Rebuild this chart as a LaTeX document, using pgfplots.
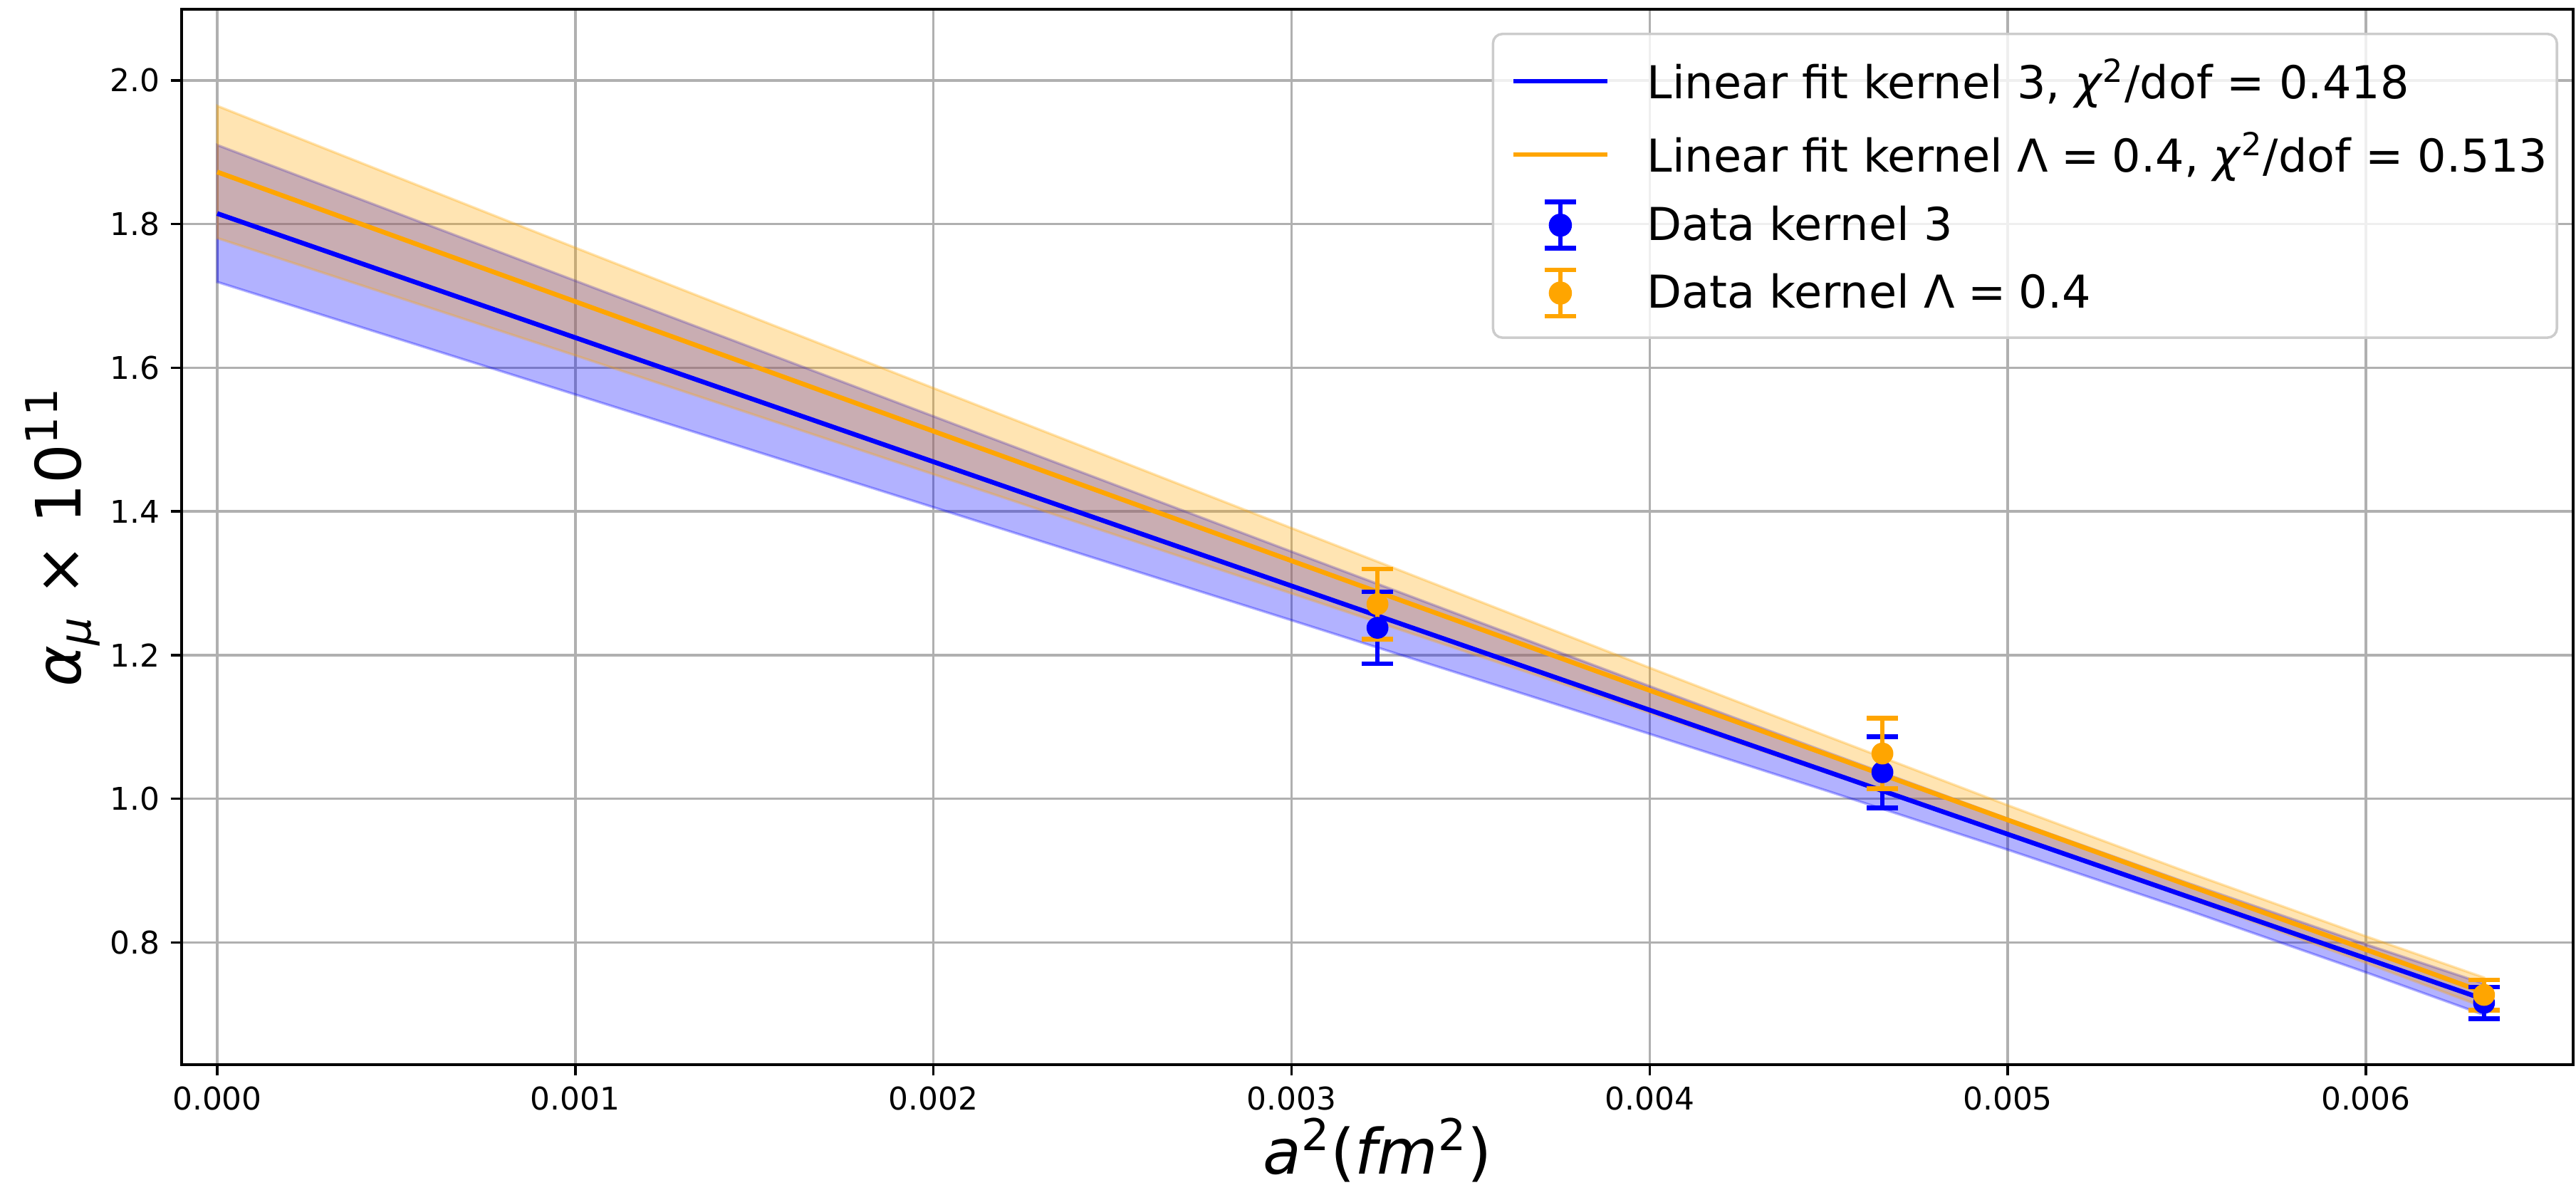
\documentclass[border=0pt]{standalone}
\usepackage{fontspec}
\setmainfont{DejaVu Sans}
\usepackage{pgfplots}
\pgfplotsset{compat=1.18}
\definecolor{mplorange}{RGB}{255,165,0}
\definecolor{gridgray}{RGB}{176,176,176}
\newcommand{\thick}{\hspace{4.2pt}}
\begin{document}
\begin{tikzpicture}
\begin{axis}[
  at={(0pt,0pt)}, anchor=south west,
  scale only axis,
  width=765.0pt, height=337.6pt,
  xmin=-0.0000994, xmax=0.006579,
  ymin=0.630, ymax=2.099,
  xtick={0,0.001,0.002,0.003,0.004,0.005,0.006},
  ytick={0.8,1.0,1.2,1.4,1.6,1.8,2.0},
  scaled x ticks=false,
  xticklabel style={/pgf/number format/.cd, fixed, fixed zerofill, precision=3},
  yticklabel style={/pgf/number format/.cd, fixed, fixed zerofill, precision=1},
  /pgf/number format/assume math mode=true,
  ticklabel style={font=\fontsize{10}{12}\selectfont},
  tick pos=left,
  tick align=outside,
  major tick length=3.5pt,
  tick style={black, line width=0.8pt},
  axis line style={line width=0.8pt},
  grid=major,
  major grid style={gridgray, line width=0.8pt},
  xlabel={\textit{a}\textsuperscript{2}(\textit{fm}\textsuperscript{2})},
  ylabel={\textit{α}\textsubscript{\textit{μ}} × 10\textsuperscript{11}},
  label style={font=\fontsize{20}{24}\selectfont},
  xlabel style={at={(axis description cs:0.5,0)}, anchor=base, yshift=-35pt},
  ylabel style={at={(axis description cs:0,0.5)}, anchor=center, yshift=38pt},
  legend cell align=left,
  legend image code/.code={\draw[#1, draw opacity=1] (2.8pt,0pt) -- (32.8pt,0pt); \path (0pt,0pt) (44.8pt,0pt);},
  legend style={at={(1,1)}, anchor=north east, xshift=-4.8pt, yshift=-7.5pt,
    font=\fontsize{14.5}{17}\selectfont, draw=black!20, line width=0.8pt,
    rounded corners=3pt, fill=white, fill opacity=0.8, text opacity=1,
    inner xsep=3pt, inner ysep=6pt, row sep=5.2pt,
    nodes={inner xsep=0pt}},
]
% fit error bands
\addplot[forget plot, fill=blue, fill opacity=0.3, draw=blue, draw opacity=0.3, line width=0.8pt] coordinates {
 (0,1.9100) (0.001,1.7211) (0.002,1.5324) (0.003,1.3441) (0.004,1.1567) (0.0045,1.0639) (0.005,0.9723) (0.0055,0.8832) (0.006,0.7974) (0.00633,0.7426)
 (0.00633,0.6992) (0.006,0.7584) (0.0055,0.8454) (0.005,0.9291) (0.0045,1.0103) (0.004,1.0903) (0.003,1.2485) (0.002,1.4058) (0.001,1.5627) (0,1.7194)
} -- cycle;
\addplot[forget plot, fill=mplorange, fill opacity=0.3, draw=mplorange, draw opacity=0.3, line width=0.8pt] coordinates {
 (0,1.9645) (0.001,1.7671) (0.002,1.5717) (0.003,1.3768) (0.004,1.1824) (0.0045,1.0862) (0.005,0.9910) (0.0055,0.8983) (0.006,0.8086) (0.00633,0.7512)
 (0.00633,0.7100) (0.006,0.7716) (0.0055,0.8623) (0.005,0.9500) (0.0045,1.0352) (0.004,1.1194) (0.003,1.2858) (0.002,1.4517) (0.001,1.6171) (0,1.7805)
} -- cycle;
% fit lines
\addplot[blue, line width=1.5pt] coordinates {(0,1.8147) (0.00633,0.7209)};
\addlegendentry{Linear fit kernel 3, \textit{χ}\textsuperscript{2}/dof = 0.418}
\addplot[mplorange, line width=1.5pt] coordinates {(0,1.8725) (0.00633,0.7306)};
\addlegendentry{Linear fit kernel Λ\thick=\thick0.4, \textit{χ}\textsuperscript{2}/dof = 0.513}
% data
\addplot[blue, only marks, mark=*, mark size=3.3pt,
  legend image code/.code={
    \draw[blue, draw opacity=1, line width=1.5pt] (17.8pt,-7.4pt) -- (17.8pt,7.4pt)
      (12.8pt,-7.4pt) -- (22.8pt,-7.4pt) (12.8pt,7.4pt) -- (22.8pt,7.4pt);
    \fill[blue, fill opacity=1] (17.8pt,0pt) circle (3.3pt);
    \path (0pt,0pt) (44.8pt,0pt);},
  error bars/.cd, y dir=both, y explicit,
  error bar style={line width=1.5pt, blue},
  error mark options={rotate=90, mark size=5pt, line width=1.5pt, blue}]
  coordinates {
   (0.00324,1.238) +- (0,0.050)
   (0.00465,1.037) +- (0,0.0495)
   (0.00633,0.716) +- (0,0.022)
  };
\addlegendentry{Data kernel 3}
\addplot[mplorange, only marks, mark=*, mark size=3.3pt,
  legend image code/.code={
    \draw[mplorange, draw opacity=1, line width=1.5pt] (17.8pt,-7.4pt) -- (17.8pt,7.4pt)
      (12.8pt,-7.4pt) -- (22.8pt,-7.4pt) (12.8pt,7.4pt) -- (22.8pt,7.4pt);
    \fill[mplorange, fill opacity=1] (17.8pt,0pt) circle (3.3pt);
    \path (0pt,0pt) (44.8pt,0pt);},
  error bars/.cd, y dir=both, y explicit,
  error bar style={line width=1.5pt, mplorange},
  error mark options={rotate=90, mark size=5pt, line width=1.5pt, mplorange}]
  coordinates {
   (0.00324,1.271) +- (0,0.049)
   (0.00465,1.063) +- (0,0.049)
   (0.00633,0.727) +- (0,0.021)
  };
\addlegendentry{Data kernel Λ\thick=\thick0.4}
\end{axis}
\pgfresetboundingbox
\useasboundingbox (-58.1pt,-40.1pt) rectangle (765.9pt,340.56pt);
\end{tikzpicture}
\end{document}
